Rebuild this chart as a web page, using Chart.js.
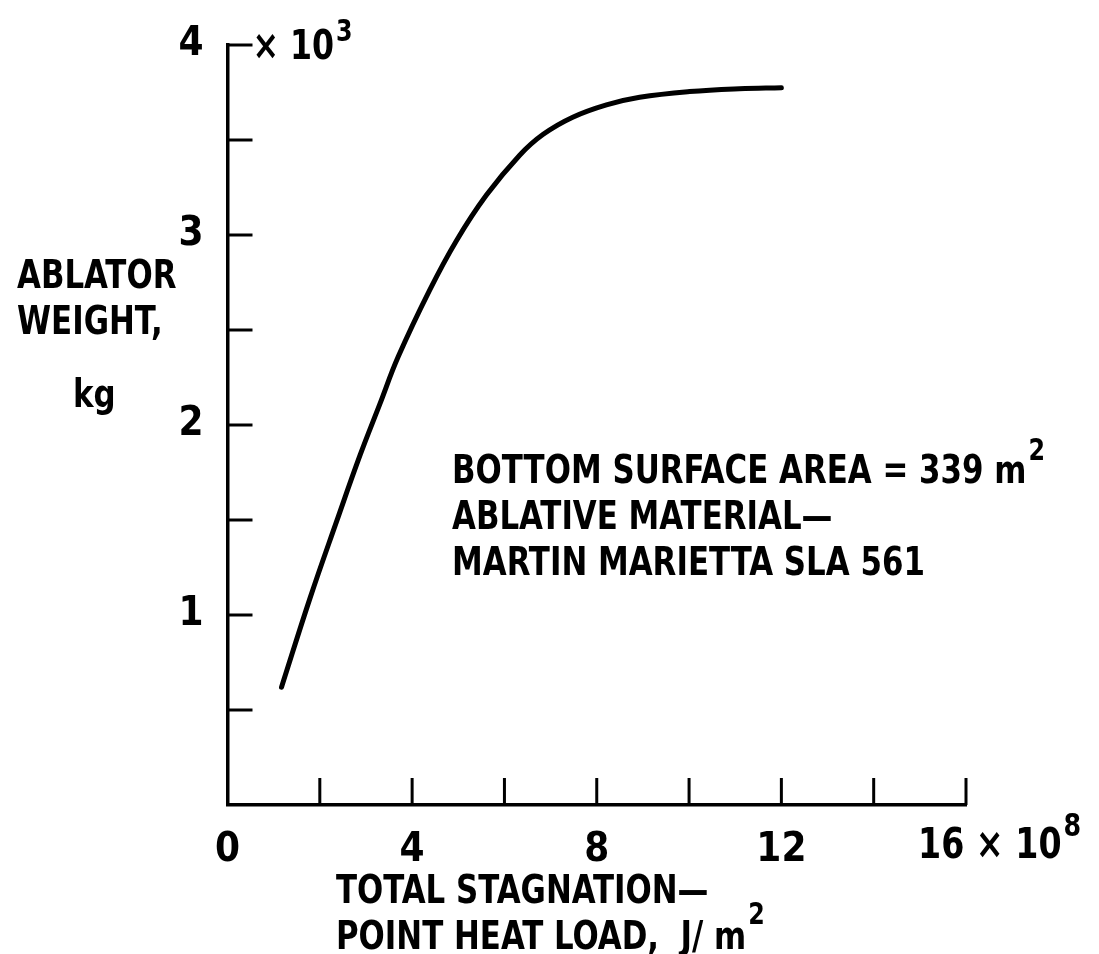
<!DOCTYPE html>
<html>
<head>
<meta charset="utf-8">
<script src="https://cdn.jsdelivr.net/npm/chart.js@4/dist/chart.umd.min.js"></script>
<style>
  html, body { margin: 0; padding: 0; background: #fff; }
  #wrap { width: 1099px; height: 954px; }
</style>
</head>
<body>
<div id="wrap"><canvas id="c" width="1099" height="954"></canvas></div>
<script>
// Ablator weight vs total stagnation-point heat load.
const heatLoad = [1.17, 1.79, 2.36, 2.87, 3.30, 3.70, 4.38, 4.96, 5.61, 6.33, 6.84, 7.48, 8.21, 8.93, 10.01, 11.09, 12.00];
const ablatorWeight = [0.62, 1.09, 1.49, 1.84, 2.11, 2.36, 2.71, 2.97, 3.21, 3.42, 3.53, 3.62, 3.685, 3.725, 3.755, 3.77, 3.775];

const xTicks = [0, 2, 4, 6, 8, 10, 12, 14, 16];
const xTickLabels = ['0', '', '4', '', '8', '', '12', '', ''];
const yTicks = [0, 0.5, 1, 1.5, 2, 2.5, 3, 3.5, 4];
const yTickLabels = ['', '', '1', '', '2', '', '3', '', '4'];

const FONT = '"DejaVu Sans Condensed", "Liberation Sans Narrow", sans-serif';
const INK = '#000';
const SQUASH = 0.88; // the original lettering is tall and narrow

function font(size) {
  return `bold ${size}px ${FONT}`;
}

// squashed text; returns the drawn width
function text(ctx, str, x, y, size) {
  ctx.save();
  ctx.font = font(size);
  ctx.translate(x, y);
  ctx.scale(SQUASH, 1);
  ctx.fillText(str, 0, 0);
  const w = ctx.measureText(str).width * SQUASH;
  ctx.restore();
  return w;
}

// text with a raised exponent
function supText(ctx, x, y, base, sup, size, supSize, rise) {
  const w = text(ctx, base, x, y, size);
  text(ctx, sup, x + w + 2, y - rise, supSize);
}

const inwardTicks = {
  id: 'inwardTicks',
  afterDraw(chart) {
    const { ctx, scales: { x, y } } = chart;
    const x0 = x.getPixelForValue(0);
    const y0 = y.getPixelForValue(0);
    ctx.save();
    ctx.strokeStyle = INK;
    ctx.lineWidth = 3;
    xTicks.slice(1).forEach((v) => {
      const px = x.getPixelForValue(v);
      ctx.beginPath();
      ctx.moveTo(px, y0);
      ctx.lineTo(px, y0 - 27);
      ctx.stroke();
    });
    yTicks.slice(1).forEach((v) => {
      const py = y.getPixelForValue(v);
      ctx.beginPath();
      ctx.moveTo(x0, py);
      ctx.lineTo(x0 + 25, py);
      ctx.stroke();
    });
    ctx.restore();
  },
};

const annotations = {
  id: 'annotations',
  afterDraw(chart) {
    const { ctx, scales: { x, y } } = chart;
    ctx.save();
    ctx.fillStyle = INK;
    ctx.textBaseline = 'alphabetic';
    ctx.textAlign = 'left';

    // axis multipliers
    const x0 = x.getPixelForValue(0);
    const yTop = y.getPixelForValue(4);
    supText(ctx, x0 + 25, yTop + 14, '× 10', '3', 40, 30, 18);
    const x16 = x.getPixelForValue(16);
    supText(ctx, x16 - 48, 858, '16 × 10', '8', 42, 32, 22);

    // y-axis title
    text(ctx, 'ABLATOR', 17, 288, 39);
    text(ctx, 'WEIGHT,', 17, 334, 39);
    text(ctx, 'kg', 73, 407, 39);

    // x-axis title
    text(ctx, 'TOTAL STAGNATION—', 336, 903, 39);
    supText(ctx, 336, 949, 'POINT HEAT LOAD,  J/ m', '2', 39, 30, 25);

    // note
    supText(ctx, 452, 483, 'BOTTOM SURFACE AREA = 339 m', '2', 39, 30, 23);
    text(ctx, 'ABLATIVE MATERIAL—', 452, 529, 39);
    text(ctx, 'MARTIN MARIETTA SLA 561', 452, 575, 39);
    ctx.restore();
  },
};

new Chart(document.getElementById('c'), {
  type: 'scatter',
  data: {
    datasets: [{
      data: heatLoad.map((v, i) => ({ x: v, y: ablatorWeight[i] })),
      showLine: true,
      borderColor: INK,
      borderWidth: 5,
      borderCapStyle: 'round',
      pointRadius: 0,
      tension: 0.4,
    }],
  },
  options: {
    responsive: false,
    animation: false,
    layout: { padding: { left: 0, top: 45, right: 133, bottom: 0 } },
    plugins: { legend: { display: false }, tooltip: { enabled: false } },
    scales: {
      x: {
        type: 'linear',
        min: 0,
        max: 16,
        afterFit: (s) => { s.height = 149; },
        afterBuildTicks: (s) => { s.ticks = xTicks.map((v) => ({ value: v })); },
        ticks: {
          autoSkip: false,
          maxRotation: 0,
          padding: 14,
          color: INK,
          font: { family: FONT, size: 40, weight: 'bold' },
          callback: (v) => xTickLabels[xTicks.indexOf(v)] ?? '',
        },
        grid: { display: false },
        border: { display: true, color: INK, width: 3.5 },
      },
      y: {
        type: 'linear',
        min: 0,
        max: 4,
        afterFit: (s) => { s.width = 227.5; },
        afterBuildTicks: (s) => { s.ticks = yTicks.map((v) => ({ value: v })); },
        ticks: {
          autoSkip: false,
          padding: 16,
          color: INK,
          font: { family: FONT, size: 40, weight: 'bold' },
          callback: (v) => yTickLabels[yTicks.indexOf(v)] ?? '',
        },
        grid: { display: false },
        border: { display: true, color: INK, width: 3.5 },
      },
    },
  },
  plugins: [inwardTicks, annotations],
});
</script>
</body>
</html>
